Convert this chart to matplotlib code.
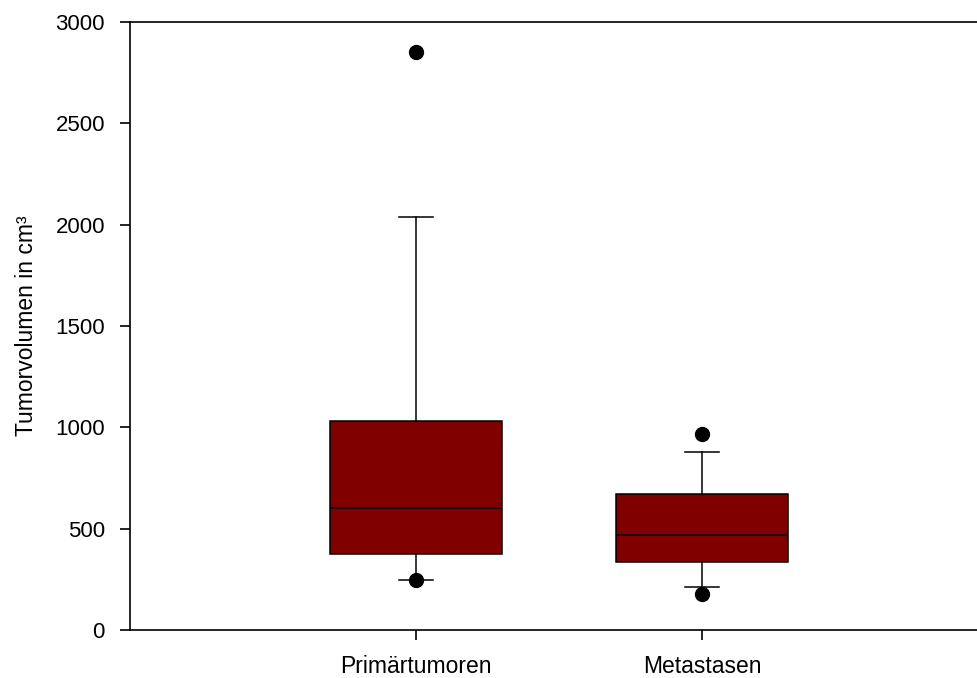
import matplotlib
matplotlib.use("Agg")
import matplotlib.pyplot as plt

plt.rcParams['font.family'] = ['Liberation Sans', 'DejaVu Sans']

# box statistics
groups = ["Primärtumoren", "Metastasen"]
q1 = [375, 337]
med = [600, 470]
q3 = [1033, 669]
whislo = [245, 214]
whishi = [2039, 880]
fliers = [[2853, 248], [965, 178]]

stats = []
for i in range(len(groups)):
    stats.append({
        "label": groups[i],
        "q1": q1[i], "med": med[i], "q3": q3[i],
        "whislo": whislo[i], "whishi": whishi[i],
        "fliers": fliers[i],
    })

fig = plt.figure(figsize=(9.78, 6.78), dpi=100)
ax = fig.add_axes([130 / 978, 48 / 678, 858 / 978, 608 / 678])

lw = 1.1
ax.bxp(stats, positions=[1, 2], widths=0.6, patch_artist=True,
       boxprops=dict(facecolor="#800000", edgecolor="black", linewidth=lw),
       medianprops=dict(color="black", linewidth=lw),
       whiskerprops=dict(color="black", linewidth=lw),
       capprops=dict(color="black", linewidth=lw),
       capwidths=0.12,
       flierprops=dict(marker="o", markerfacecolor="black",
                       markeredgecolor="black", markersize=10))

ax.set_xlim(0, 3)
ax.set_ylim(0, 3000)
ax.set_yticks([0, 500, 1000, 1500, 2000, 2500, 3000])
ax.set_xticks([1, 2])
ax.set_xticklabels(groups)
ax.tick_params(direction="out", length=7, width=1.2)
ax.tick_params(axis="y", labelsize=16, pad=11)
ax.tick_params(axis="x", labelsize=16.5, pad=11)
ax.set_ylabel("Tumorvolumen in cm³", fontsize=16.5)
ax.yaxis.set_label_coords(-0.107, 0.5)
for s in ax.spines.values():
    s.set_linewidth(1.2)
ax.spines['right'].set_visible(False)

fig.savefig("out.png", dpi=100)
